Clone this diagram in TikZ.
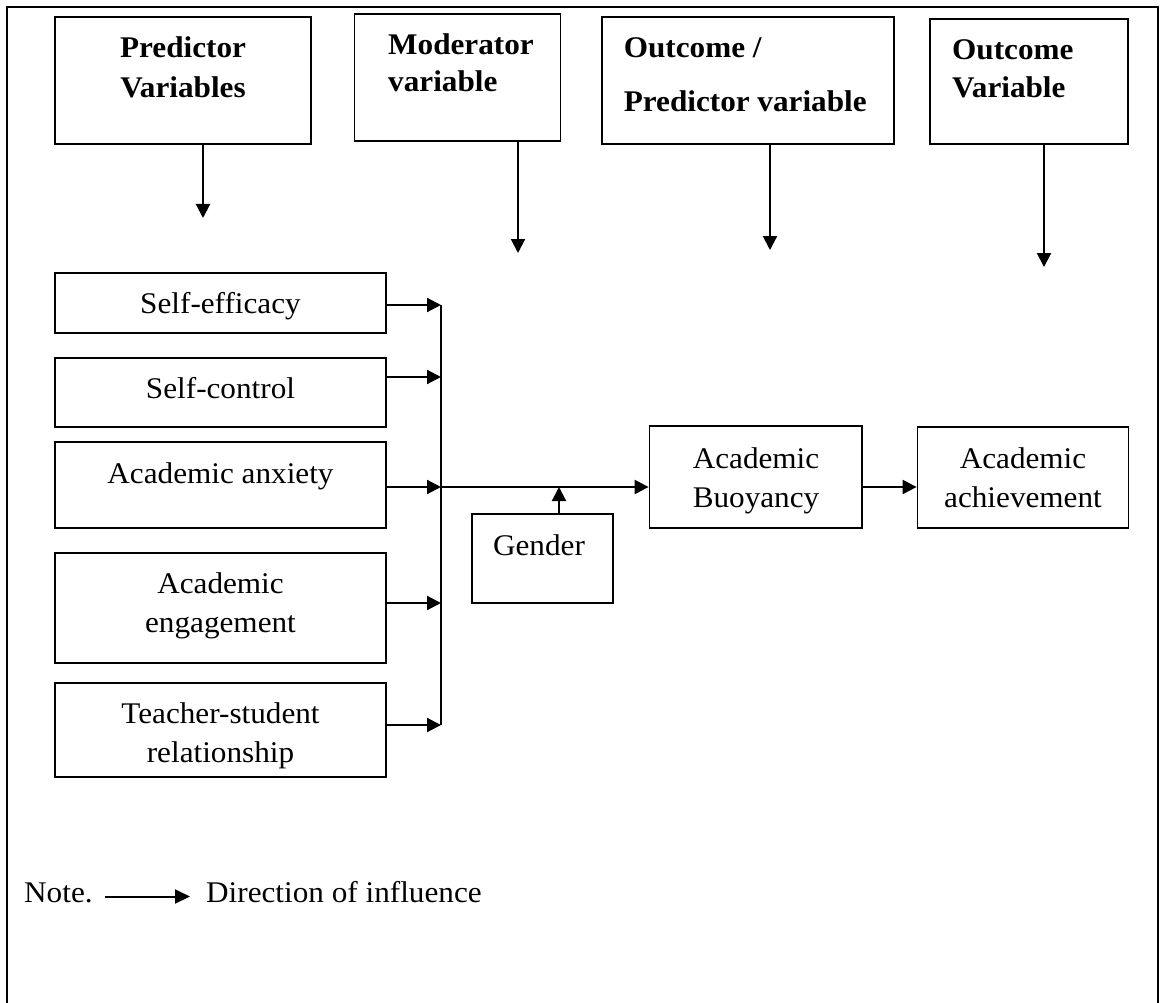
\documentclass[tikz,border=0pt]{standalone}
\usepackage{fontspec}
\setmainfont[FakeStretch=1.04]{Liberation Serif}
\usetikzlibrary{arrows.meta}
\begin{document}
\begin{tikzpicture}[x=1pt,y=-1pt,
  box/.style={draw, line width=1.8pt, inner sep=0pt},
  arr/.style={line width=2.1pt, -{Triangle[length=14pt,width=14pt]}},
  arrs/.style={line width=2pt, -{Triangle[length=15pt,width=14pt]}},
  txt/.style={anchor=base, inner sep=0pt, font=\fontsize{30}{36}\selectfont},
  txtw/.style={anchor=base west, inner sep=0pt, font=\fontsize{30}{36}\selectfont},
  hd/.style={anchor=base west, inner sep=0pt, font=\fontsize{30}{36}\selectfont\bfseries},
  hdc/.style={anchor=base, inner sep=0pt, font=\fontsize{30}{36}\selectfont\bfseries},
]
\useasboundingbox (0,0) rectangle (1164,1003);
\fill[white] (0,0) rectangle (1164,1003);
\draw[line width=2.2pt] (7,1012) -- (7,7) -- (1158,7) -- (1158,1012);

% header boxes
\node[box, minimum width=256pt, minimum height=127pt] (pv) at (183,80.5) {};
\node[box, minimum width=206pt, minimum height=127pt] (mv) at (457.5,77.5) {};
\node[box, minimum width=291.6pt, minimum height=127pt] (op) at (747.8,80.5) {};
\node[box, minimum width=198pt, minimum height=125pt] (ov) at (1029,81.5) {};

\node[hdc] (pv1) at (183,58) {Predictor};
\node[hdc] (pv2) at (183,98) {Variables};
\node[hd] (mv1) at (388,55) {Moderator};
\node[hd] (mv2) at (388,92) {variable};
\node[hd] (op1) at (623.6,58) {Outcome /};
\node[hd] (op2) at (623.6,112) {Predictor variable};
\node[hd] (ov1) at (952,60) {Outcome};
\node[hd] (ov2) at (952,98) {Variable};

\coordinate (pvt) at (203,218);
\coordinate (mvt) at (518,253);
\coordinate (opt) at (770,250);
\coordinate (ovt) at (1044,267);
\draw[arr] (pv.south -| pvt) -- (pvt);
\draw[arr] (mv.south -| mvt) -- (mvt);
\draw[arr] (op.south -| opt) -- (opt);
\draw[arr] (ov.south -| ovt) -- (ovt);

% predictor boxes
\node[box, minimum width=331pt, minimum height=60pt] (se) at (220.5,303) {};
\node[box, minimum width=331pt, minimum height=69pt] (sc) at (220.5,392.5) {};
\node[box, minimum width=331pt, minimum height=86pt] (aa) at (220.5,485) {};
\node[box, minimum width=331pt, minimum height=110pt] (ae) at (220.5,608) {};
\node[box, minimum width=331pt, minimum height=94pt] (ts) at (220.5,730) {};

\node[txt] (se1) at (220.5,313) {Self-efficacy};
\node[txt] (sc1) at (220.5,398) {Self-control};
\node[txt] (aa1) at (220.5,483) {Academic anxiety};
\node[txt] (ae1) at (220.5,593) {Academic};
\node[txt] (ae2) at (220.5,632) {engagement};
\node[txt] (ts1) at (220.5,723) {Teacher-student};
\node[txt] (ts2) at (220.5,762) {relationship};

\coordinate (b1) at (441,305);
\coordinate (b2) at (441,377);
\coordinate (b3) at (441,487);
\coordinate (b4) at (441,603);
\coordinate (b5) at (441,725);
\draw[arr] (se.east |- b1) -- (b1);
\draw[arr] (sc.east |- b2) -- (b2);
\draw[arr] (aa.east |- b3) -- (b3);
\draw[arr] (ae.east |- b4) -- (b4);
\draw[arr] (ts.east |- b5) -- (b5);
\draw[line width=1.5pt] (b1) -- (b5);

% outcome boxes
\node[box, minimum width=212.5pt, minimum height=102pt] (bu) at (755.75,477) {};
\node[box, minimum width=211pt, minimum height=101pt] (ac) at (1023,477.5) {};
\node[box, minimum width=141pt, minimum height=89pt] (ge) at (542.5,558.5) {};

\node[txt] (bu1) at (756,468) {Academic};
\node[txt] (bu2) at (756,507) {Buoyancy};
\node[txt] (ac1) at (1023,468) {Academic};
\node[txt] (ac2) at (1023,507) {achievement};
\node[txt] (ge1) at (539,555) {Gender};

\draw[arr] (b3) -- (bu.west |- b3);
\draw[arr] (bu.east |- b3) -- (ac.west |- b3);
\coordinate (gt) at (559,487);
\draw[arr] (ge.north -| gt) -- (gt);

% note
\node[txtw] (note) at (24,902) {Note.};
\node[txtw] (dir) at (206,902) {Direction of influence};
\coordinate (n1) at (105,896.5);
\coordinate (n2) at (190,896.5);
\draw[arrs] (n1) -- (n2);
\end{tikzpicture}
\end{document}
